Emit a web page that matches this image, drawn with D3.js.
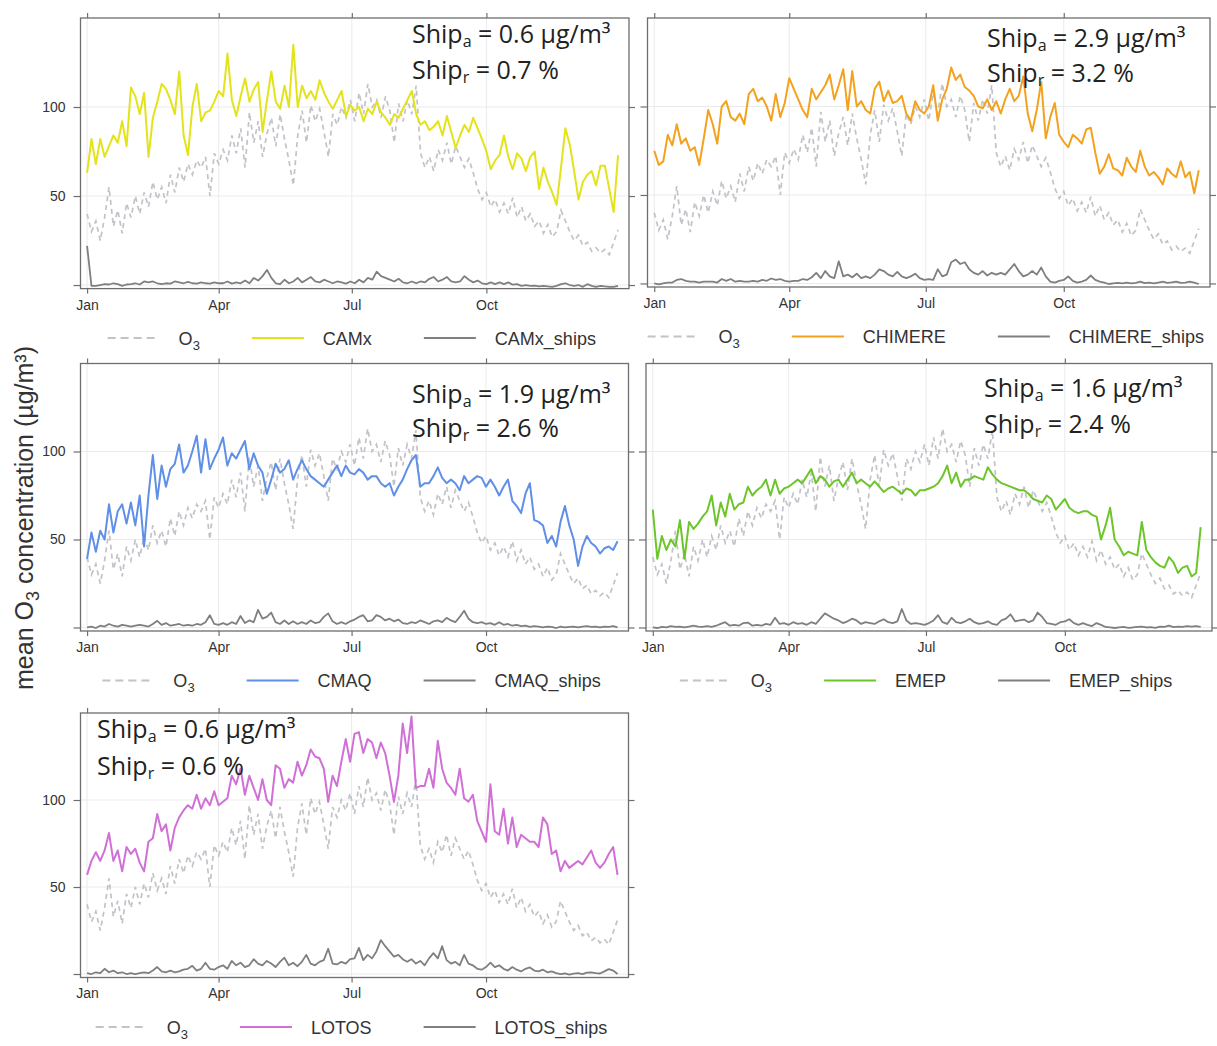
<!DOCTYPE html>
<html>
<head>
<meta charset="utf-8">
<script src="https://cdn.jsdelivr.net/npm/d3@7"></script>
<style>
  body { margin: 0; background: #fff; }
</style>
</head>
<body>
<script>
// one value every 3 days, day 0 = 1 Jan
const step = 3;

const o3 = [
  40, 30, 36, 25, 38, 55, 33, 42, 29, 46,
  38, 50, 40, 52, 44, 58, 48, 55, 46, 62,
  52, 66, 58, 68, 62, 70, 66, 72, 50, 74,
  68, 76, 70, 84, 74, 88, 66, 97, 80, 92,
  72, 85, 94, 78, 96, 82, 70, 56, 84, 98,
  80, 101, 92, 99, 86, 72, 96, 90, 100, 94,
  104, 92, 108, 96, 113, 100, 104, 94, 106, 98,
  80, 102, 92, 104, 96, 112, 74, 66, 72, 64,
  76, 70, 80, 68, 78, 72, 66, 71, 63, 54,
  48, 52, 44, 48, 41, 46, 40, 49, 38, 44,
  36, 40, 33, 36, 29, 34, 27, 30, 42, 36,
  30, 25, 28, 22, 24, 19, 21, 18, 20, 17,
  24, 31
];

const camx = [
  63, 82, 68, 82, 72, 78, 84, 80, 92, 78,
  111, 106, 96, 108, 72, 94, 103, 113, 110, 104,
  96, 120, 84, 73, 100, 113, 92, 97, 98, 103,
  109, 106, 130, 104, 95, 106, 116, 103, 110, 114,
  86, 104, 120, 103, 99, 112, 100, 135, 100, 112,
  105, 109, 104, 115, 108, 103, 99, 104, 109, 95,
  101, 98, 100, 92, 99, 96, 103, 97, 94, 90,
  96, 94, 99, 104, 109, 96, 90, 92, 87, 89,
  92, 84, 95, 86, 77, 84, 90, 86, 94, 88,
  82, 75, 65, 70, 73, 84, 72, 65, 74, 71,
  64, 72, 75, 54, 66, 58, 52, 45, 66, 88,
  79, 64, 48, 58, 62, 64, 56, 67, 67, 54,
  41, 73
];
const camxShips = [
  22, -0.5, -0.5, 0, 0.5, 0.3, 1, 0.5, -0.5, 0.3,
  0.5, 1, 0.3, 2, 1.5, 2, 1, 0.5, 1, 0.8,
  2, 1.5, 1, 1.8, 1, 0.8, 1.5, 1, 0.8, 1.5,
  1, 1, 2, 0.8, 1.5, 1, 2.5, 1, 4, 2.5,
  5, 8.5, 4, 1, 0.5, 3, 1, 2, 4, 1.5,
  3, 4.5, 2, 1.5, 3, 2, 1, 2, 1.5, 0.8,
  2, 1, 3, 1.5, 4, 3, 7.5, 5, 4, 3,
  2, 3.5, 1.5, 1, 2, 1, 2, 1.5, 3.5, 4.5,
  2, 3, 4.5, 2, 1.5, 2, 5, 3, 1.5, 2.5,
  1, 0.5, 1.5, 0.5, 1.5, 0.5, 1.5, 0.2, 0.5, -0.5,
  0, -0.5, -0.3, -0.8, -0.5, -0.8, -1, -0.5, 0.5, 1,
  0, -0.5, 0, -1, 0.5, -0.5, -1, -0.5, -0.8, -1,
  -1, -0.5
];

const chimere = [
  75, 67, 69, 84, 78, 90, 79, 82, 75, 77,
  67, 82, 98, 90, 79, 100, 103, 94, 92, 96,
  90, 107, 110, 103, 105, 100, 92, 107, 94, 102,
  116, 110, 104, 98, 94, 110, 104, 108, 112, 118,
  104, 112, 121, 98, 120, 100, 103, 98, 96, 110,
  114, 103, 109, 102, 103, 106, 96, 92, 103, 98,
  96, 100, 112, 92, 104, 110, 122, 115, 118, 111,
  109, 106, 100, 99, 104, 98, 103, 96, 104, 110,
  103, 106, 117, 96, 86, 98, 114, 82, 94, 102,
  84, 80, 77, 84, 82, 79, 87, 88, 74, 62,
  66, 73, 65, 64, 61, 71, 66, 63, 75, 66,
  61, 63, 60, 56, 65, 62, 60, 69, 60, 63,
  51, 64
];
const chimereShips = [
  0, -0.5, 0, 0.5, 0.5, 2, 2.5, 1.5, 1, 1,
  0.5, 1, 1, 1, 0.5, 2.5, 1.5, 2.5, 1, 1.5,
  1, 1, 1.5, 1, 2, 1.5, 2.8, 2, 2.5, 1.5,
  1, 1.5, 1.5, 2.5, 2, 3.5, 6, 3, 7, 4,
  3, 12.5, 4, 5, 3.5, 5.5, 3, 4, 3, 5,
  8, 7, 5, 4, 6.5, 4, 3, 4, 5.5, 3,
  2, 2.5, 2, 8, 4, 5, 12, 13.5, 11, 12,
  8, 6, 5, 7, 4.5, 6, 5, 6, 5, 8,
  11, 7, 4, 5, 7, 5, 9, 4, 1, 0.5,
  1.5, 2, 4, 1.5, 0.5, 1, 2, 4.5, 2, 1,
  0.5, -0.3, 0, 0.3, 0, 0.5, 0, 0.3, 1, 0.2,
  0.5, 0, 0.5, 1, 0.3, 0.6, 1, 0.3, 0.5, 1,
  0.5, -0.3
];

const cmaq = [
  39, 54, 43, 55, 50, 70, 54, 66, 70, 59,
  71, 58, 75, 46, 75, 98, 73, 92, 80, 90,
  93, 104, 88, 92, 100, 109, 88, 107, 90, 96,
  101, 108, 92, 99, 96, 101, 106, 90, 99, 92,
  88, 76, 84, 93, 88, 90, 95, 84, 90, 95,
  90, 86, 84, 82, 80, 84, 88, 92, 86, 92,
  88, 87, 90, 88, 84, 86, 86, 82, 80, 82,
  75, 80, 84, 90, 95, 98, 80, 82, 82, 86,
  91, 85, 82, 84, 82, 78, 86, 82, 84, 86,
  85, 80, 84, 80, 75, 80, 84, 72, 69, 65,
  76, 82, 61, 60, 58, 48, 52, 46, 60, 69,
  58, 50, 35, 46, 52, 48, 46, 42, 45, 46,
  44, 49
];
const cmaqShips = [
  0, 0.5, -0.3, 1, 0.5, 2, 1, 0.5, 1.5, 1,
  0.5, 1, 1.5, 1, 0.5, 2, 3.8, 1.5, 2.5, 1,
  1.5, 2, 1, 1.5, 1, 2, 1.5, 3, 7, 2,
  1.5, 2.5, 1.5, 3, 2, 6.5, 2.5, 4, 3, 10,
  5, 6, 8.5, 3, 2, 4, 2, 3.5, 2, 3,
  2, 4, 2.5, 3, 6, 8, 3.5, 2, 3, 2,
  3.5, 4.5, 6, 7, 3.5, 4, 7, 6, 4, 5,
  3.5, 4.5, 2.5, 2, 3, 2.5, 4, 3, 2, 3.5,
  4, 3, 5.5, 4, 3, 6, 9.5, 5, 3, 2.5,
  3, 2, 2.5, 1.5, 3, 1.5, 2, 1, 1.5, 0.8,
  1, 0.3, 0.8, 0.5, 0, 0.5, 0.3, -0.3, 0.5, 0,
  0.3, 0.5, 0, 0.5, 0.8, 0.3, 0.5, 0, 0.5, 0.3,
  0.8, 0
];

const emep = [
  67, 39, 52, 44, 50, 46, 61, 39, 60, 56,
  59, 63, 66, 75, 58, 71, 63, 76, 67, 70,
  71, 80, 75, 78, 80, 84, 75, 84, 76, 79,
  80, 82, 84, 82, 86, 90, 82, 86, 84, 80,
  83, 84, 80, 84, 88, 82, 84, 82, 80, 83,
  80, 77, 79, 80, 78, 76, 79, 78, 75, 78,
  78, 79, 80, 82, 86, 92, 82, 88, 80, 84,
  84, 86, 85, 84, 91, 87, 84, 82, 81, 80,
  79, 78, 78, 76, 73, 72, 71, 75, 73, 67,
  70, 73, 68, 66, 65, 66, 66, 64, 63, 50,
  58, 68, 50, 46, 41, 43, 42, 41, 60, 44,
  40, 37, 35, 34, 40, 37, 31, 34, 35, 29,
  31, 57
];
const emepShips = [
  0, -0.3, 0.3, 0, 0.8, 0.3, 0.5, 0, 0.5, 1,
  0.5, 0.3, 0.8, 0.3, 1, 2, 3, 1, 1.5, 1,
  2.5, 2.8, 1, 1.5, 1, 2, 1.5, 5.5, 2, 2.5,
  1.5, 3, 2, 2.5, 1.5, 3, 2, 5, 8, 6.5,
  5, 4, 2.5, 3.5, 5, 4, 2, 3, 2.5, 2,
  3.5, 4.7, 3, 2.5, 3.5, 10.5, 4, 2, 2.5, 2,
  1.5, 2.5, 4, 7, 3, 2, 5.5, 3, 2.5, 3.5,
  5, 3, 2, 2.5, 3.5, 2, 1.5, 4, 5, 7.5,
  3.5, 4, 4.5, 3, 4, 8.5, 6, 2.5, 2, 1.5,
  3, 3.5, 4.7, 2.5, 1.5, 2.5, 1.5, 0.8, 2.5, 1.5,
  0.3, 0, -0.3, 0, 0.3, -0.2, 0, 0.3, 0.5, 0,
  0.2, -0.2, 0.5, 0.3, 1, 0.2, 0.5, 0.3, 0.8, 0.5,
  0.8, 0.3
];

const lotos = [
  57, 65, 70, 65, 71, 81, 65, 71, 59, 73,
  69, 72, 64, 59, 76, 78, 92, 82, 86, 71,
  84, 90, 94, 97, 95, 103, 95, 101, 97, 105,
  97, 99, 101, 114, 109, 118, 103, 114, 107, 100,
  112, 100, 97, 120, 118, 107, 112, 110, 122, 114,
  120, 129, 125, 124, 118, 99, 114, 108, 122, 135,
  122, 138, 139, 127, 135, 133, 124, 133, 127, 114,
  99, 114, 144, 127, 148, 107, 108, 108, 118, 107,
  134, 118, 110, 107, 103, 118, 101, 99, 103, 88,
  82, 76, 109, 82, 80, 95, 75, 90, 73, 80,
  78, 76, 76, 73, 90, 86, 69, 71, 59, 65,
  61, 63, 65, 63, 67, 71, 64, 61, 64, 69,
  73, 57
];
const lotosShips = [
  0.5, 0, 1, 0.5, 3, 1, 2, 0.5, 1, 0,
  0.5, 0, 0.5, 1, 0.5, 2, 4, 1.5, 1, 2,
  1, 1.5, 2.5, 3, 4.7, 2, 3, 6.5, 3, 2.5,
  4, 5, 3, 7.5, 5, 6.5, 4, 5, 8.5, 6,
  5, 7.5, 6, 4, 7, 9.4, 5, 6.5, 4.5, 7,
  11, 6, 5, 7, 8, 14.5, 6, 5.5, 7, 6,
  8.5, 9, 15, 8, 11, 9, 13, 19.5, 16, 13,
  10, 11, 8.5, 7, 8.5, 6, 7.5, 5, 9, 12,
  9, 16, 8, 6, 7, 5, 11, 6, 5, 3,
  2.5, 4, 6.5, 4, 5, 3, 2, 4, 2.5, 1.5,
  3, 3.8, 2, 1.5, 2.5, 1, 1.5, 0.5, 0, 0.3,
  -0.3, 0.2, 0.5, 0, 0.8, 1, 0.5, 0.3, 1.5, 2.8,
  2, 0
];

const models = ["CAMx", "CHIMERE", "CMAQ", "EMEP", "LOTOS"];
const modelSeries = [camx, chimere, cmaq, emep, lotos];
const shipSeries = [camxShips, chimereShips, cmaqShips, emepShips, lotosShips];
const shipAbs = [0.6, 2.9, 1.9, 1.6, 0.6];
const shipRel = [0.7, 3.2, 2.6, 2.4, 0.6];
const monthStarts = [0, 3, 6, 9];
const monthLabels = ["Jan", "Apr", "Jul", "Oct"];
const yTicks = [0, 50, 100];

// layout: plot frame [left, right, top, bottom], note [x, baseline1, baseline2]
const colors = ["#e3e31b", "#f4a21e", "#5f8fe6", "#6cc52a", "#d070d6"];
const layout = [
  { frame: [80.5, 629, 18, 288.6], note: [412, 43, 79], labels: true },
  { frame: [647.5, 1210, 18, 287], note: [987, 47, 82], labels: false },
  { frame: [80.5, 628.5, 363.5, 631], note: [412, 403, 437], labels: true },
  { frame: [646, 1212, 363.5, 631], note: [984, 397, 433], labels: false },
  { frame: [80.5, 628.5, 713, 977.5], note: [97, 738, 775], labels: true },
];

const o3Color = "#c2c2c9";
const shipColor = "#7f7f7f";
const frameColor = "#6e6e6e";
const textColor = "#333";
const font = "'Liberation Sans', Arial, sans-serif";

const year0 = Date.UTC(2015, 0, 1);
const dateOf = (d) => new Date(year0 + d * 864e5);
const monthDates = monthStarts.map((m) => new Date(Date.UTC(2015, m, 1)));

const svg = d3
  .select("body")
  .append("svg")
  .attr("width", 1217)
  .attr("height", 1046);

svg.append("rect").attr("width", 1217).attr("height", 1046).attr("fill", "#fff");

layout.forEach((lay, k) => {
  const [l, r, t, b] = lay.frame;
  const x = d3.scaleUtc().domain([dateOf(-4.5), dateOf(370.5)]).range([l, r]);
  const y = d3.scaleLinear().domain([-2, 150]).range([b, t]);
  const g = svg.append("g");

  // grid
  g.append("g")
    .selectAll("line")
    .data(monthDates)
    .join("line")
    .attr("x1", (d) => x(d))
    .attr("x2", (d) => x(d))
    .attr("y1", t)
    .attr("y2", b)
    .attr("stroke", "#ebebeb");
  g.append("g")
    .selectAll("line")
    .data(yTicks)
    .join("line")
    .attr("x1", l)
    .attr("x2", r)
    .attr("y1", (d) => y(d))
    .attr("y2", (d) => y(d))
    .attr("stroke", "#ebebeb");

  const line = d3
    .line()
    .x((d, i) => x(dateOf(i * step)))
    .y((d) => y(d));

  g.append("path")
    .datum(o3)
    .attr("d", line)
    .attr("fill", "none")
    .attr("stroke", o3Color)
    .attr("stroke-width", 1.7)
    .attr("stroke-dasharray", "5,4");

  g.append("path")
    .datum(modelSeries[k])
    .attr("d", line)
    .attr("fill", "none")
    .attr("stroke", colors[k])
    .attr("stroke-width", 2)
    .attr("stroke-linejoin", "round");

  g.append("path")
    .datum(shipSeries[k])
    .attr("d", line)
    .attr("fill", "none")
    .attr("stroke", shipColor)
    .attr("stroke-width", 1.8)
    .attr("stroke-linejoin", "round");

  // frame
  g.append("rect")
    .attr("x", l)
    .attr("y", t)
    .attr("width", r - l)
    .attr("height", b - t)
    .attr("fill", "none")
    .attr("stroke", frameColor)
    .attr("stroke-width", 1.3);

  // axes
  const styleAxis = (sel) => {
    sel.select(".domain").remove();
    sel.selectAll(".tick line").attr("stroke", frameColor).attr("stroke-width", 1.2);
    sel.selectAll(".tick text").attr("fill", textColor).attr("font-size", 14).attr("font-family", font);
  };
  g.append("g")
    .attr("transform", `translate(0,${b})`)
    .call(d3.axisBottom(x).tickValues(monthDates).tickFormat((d, i) => monthLabels[i]).tickSize(5).tickPadding(6))
    .call(styleAxis);
  g.append("g")
    .attr("transform", `translate(0,${t})`)
    .call(d3.axisTop(x).tickValues(monthDates).tickFormat("").tickSize(5))
    .call(styleAxis);
  g.append("g")
    .attr("transform", `translate(${l},0)`)
    .call(d3.axisLeft(y).tickValues(yTicks).tickFormat((d) => (lay.labels && d > 0 ? d : "")).tickSize(7).tickPadding(8))
    .call(styleAxis);
  g.append("g")
    .attr("transform", `translate(${r},0)`)
    .call(d3.axisRight(y).tickValues(yTicks).tickFormat("").tickSize(6))
    .call(styleAxis);

  // ship annotation
  const [nx, ny1, ny2] = lay.note;
  const note = g.append("g").attr("font-family", "'Open Sans', 'Noto Sans', sans-serif").attr("fill", "#222");
  const t1 = note.append("text").attr("x", nx).attr("y", ny1).attr("font-size", 25);
  t1.append("tspan").text("Ship");
  t1.append("tspan").attr("font-size", 16).attr("dy", 4).text("a");
  t1.append("tspan").attr("dy", -4).text(` = ${d3.format(".1f")(shipAbs[k])} µg/m³`);
  const t2 = note.append("text").attr("x", nx).attr("y", ny2).attr("font-size", 25);
  t2.append("tspan").text("Ship");
  t2.append("tspan").attr("font-size", 16).attr("dy", 4).text("r");
  t2.append("tspan").attr("dy", -4).text(` = ${d3.format(".1f")(shipRel[k])} %`);

  // legend
  const items = [
    { label: "O", sub: "3", stroke: o3Color, dash: "8,5" },
    { label: models[k], stroke: colors[k] },
    { label: models[k] + "_ships", stroke: shipColor },
  ];
  const leg = g.append("g");
  let cx = 0;
  items.forEach((it) => {
    const item = leg.append("g").attr("transform", `translate(${cx},0)`);
    item.append("line")
      .attr("x1", 0)
      .attr("x2", 52)
      .attr("stroke", it.stroke)
      .attr("stroke-width", 2)
      .attr("stroke-dasharray", it.dash || null);
    const txt = item.append("text")
      .attr("x", 71)
      .attr("y", 6.5)
      .attr("font-family", font)
      .attr("font-size", 18)
      .attr("fill", textColor)
      .text(it.label);
    if (it.sub) txt.append("tspan").attr("font-size", 13).attr("dy", 5).text(it.sub);
    cx += 71 + txt.node().getBBox().width + 52;
  });
  const total = cx - 52;
  leg.attr("transform", `translate(${(l + r) / 2 - total / 2 - 3},${b + 49.5})`);
});

// shared y-axis title
const yt = svg.append("text")
  .attr("transform", "translate(33,518) rotate(-90)")
  .attr("text-anchor", "middle")
  .attr("font-family", font)
  .attr("font-size", 25)
  .attr("fill", textColor)
  .text("mean O");
yt.append("tspan").attr("font-size", 18).attr("dy", 6).text("3");
yt.append("tspan").attr("dy", -6).text(" concentration (µg/m³)");
</script>
</body>
</html>
